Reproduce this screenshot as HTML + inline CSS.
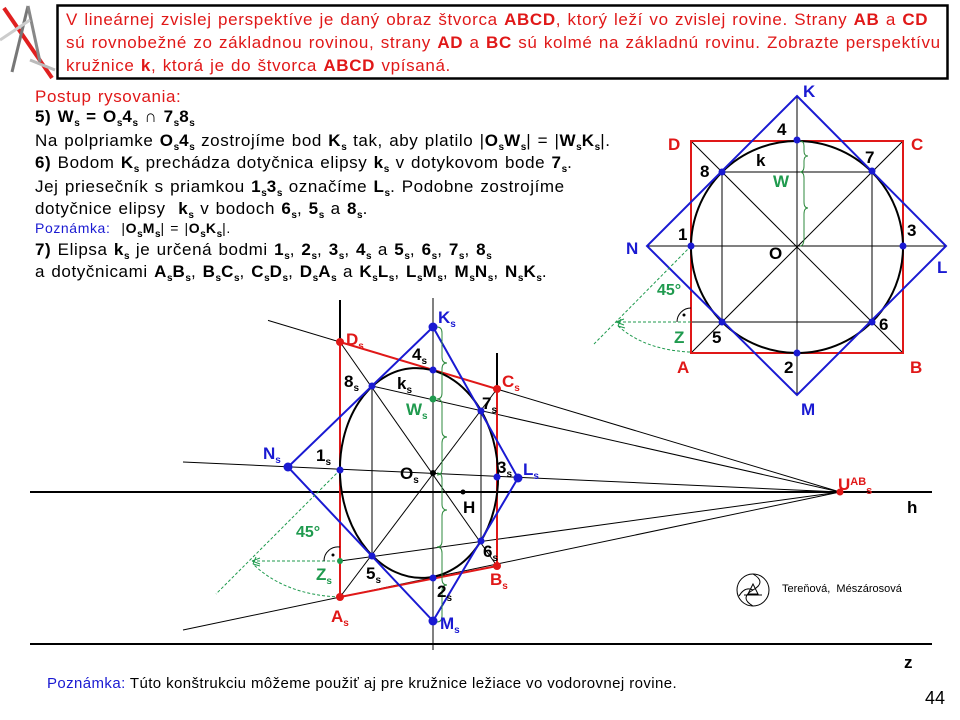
<!DOCTYPE html>
<html><head><meta charset="utf-8"><style>
body{margin:0;background:#fff;}
#c{position:relative;width:960px;height:720px;overflow:hidden;font-family:"Liberation Sans",sans-serif;}
.t{position:absolute;white-space:nowrap;}
.l{position:absolute;white-space:nowrap;font-weight:bold;font-size:17px;line-height:20px;}
.l sub,.tx sub{font-size:10px;vertical-align:-4px;line-height:0;letter-spacing:0;}
.bl{color:#1a1ad2}.rd{color:#e01818}.gr{color:#1f9a4e}.bk{color:#000}
.tx{position:absolute;left:35px;font-size:17px;line-height:20px;white-space:nowrap;color:#000;letter-spacing:0.6px;word-spacing:1px;}
</style></head><body><div id="c">
<svg width="960" height="720" style="position:absolute;left:0;top:0">
<line x1="4" y1="8" x2="52" y2="78" stroke="#e02020" stroke-width="4"/>
<line x1="28" y1="6" x2="12" y2="72" stroke="#777" stroke-width="3"/>
<line x1="28" y1="6" x2="40" y2="62" stroke="#888" stroke-width="3"/>
<line x1="0" y1="40" x2="30" y2="20" stroke="#ccc" stroke-width="3"/>
<line x1="30" y1="60" x2="55" y2="70" stroke="#bbb" stroke-width="3"/>
<rect x="57.5" y="5.5" width="890" height="73" fill="none" stroke="#000" stroke-width="2.5"/>
<line x1="30" y1="492" x2="932" y2="492" stroke="#000" stroke-width="2"/>
<line x1="30" y1="644" x2="932" y2="644" stroke="#000" stroke-width="2"/>
<g stroke="#000" stroke-width="1">
<line x1="268" y1="320.4" x2="840" y2="492"/>
<line x1="372" y1="386" x2="840" y2="492"/>
<line x1="183" y1="462" x2="840" y2="492"/>
<line x1="340" y1="561" x2="840" y2="492"/>
<line x1="183" y1="630" x2="840" y2="492"/>
</g>
<g stroke="#000" stroke-width="1">
<line x1="340" y1="342" x2="497" y2="566"/>
<line x1="340" y1="597" x2="497" y2="389"/>
<line x1="372" y1="386" x2="372" y2="556"/>
<line x1="481" y1="411" x2="481" y2="541"/>
<line x1="433" y1="298" x2="433" y2="650"/>
</g>
<line x1="340" y1="300" x2="340" y2="342" stroke="#000" stroke-width="2"/>
<line x1="497" y1="353" x2="497" y2="389" stroke="#000" stroke-width="2"/>
<polygon points="340,342 497,389 497,566 340,597" fill="none" stroke="#e01818" stroke-width="2"/>
<ellipse cx="419" cy="473" rx="79" ry="105" transform="rotate(-3.3 419 473)" fill="none" stroke="#000" stroke-width="2"/>
<polygon points="433,327 518,478 433,621 288,467" fill="none" stroke="#1a1ad2" stroke-width="2"/>
<g fill="none" stroke="#2e8a3e" stroke-width="1">
<path d="M437,327 q5,0 5,6 v24 q0,6 5,6 q-5,0 -5,6 v24 q0,6 -5,6"/>
<path d="M437,399 q5,0 5,6 v26 q0,6 5,6 q-5,0 -5,6 v26 q0,6 -5,6"/>
<path d="M437,473 q5,0 5,6 v25 q0,6 5,6 q-5,0 -5,6 v25 q0,6 -5,6"/>
<path d="M437,547 q5,0 5,6 v26 q0,6 5,6 q-5,0 -5,6 v25 q0,6 -5,6"/>
</g>
<g fill="none" stroke="#1f9a4e" stroke-width="1" stroke-dasharray="3,2">
<line x1="340" y1="470" x2="216" y2="594"/>
<line x1="340" y1="561" x2="252" y2="561"/>
<path d="M340,597 Q285,595 253,564"/>
</g>
<path d="M252,561 l8,-3 M252,561 l8,3" stroke="#1f9a4e" stroke-width="1"/>
<path d="M253,564 l3,-7 M253,564 l7,2" stroke="#1f9a4e" stroke-width="1"/>
<path d="M324,561 a14,14 0 0 1 16,-14" fill="none" stroke="#000" stroke-width="1"/>
<circle cx="333" cy="555" r="1.5" fill="#000"/>
<g fill="#1a1ad2">
<circle cx="433" cy="327" r="4.5"/><circle cx="433" cy="621" r="4.5"/>
<circle cx="288" cy="467" r="4.5"/><circle cx="518" cy="478" r="4.5"/>
<circle cx="433" cy="370" r="3.5"/><circle cx="433" cy="578" r="3.5"/>
<circle cx="340" cy="470" r="3.5"/><circle cx="497" cy="477" r="3.5"/>
<circle cx="372" cy="386" r="3.5"/><circle cx="481" cy="411" r="3.5"/>
<circle cx="372" cy="556" r="3.5"/><circle cx="481" cy="541" r="3.5"/>
</g>
<g fill="#e01818">
<circle cx="340" cy="342" r="4"/><circle cx="497" cy="389" r="4"/>
<circle cx="497" cy="566" r="4"/><circle cx="340" cy="597" r="4"/>
<circle cx="840" cy="492" r="3.5"/>
</g>
<circle cx="433" cy="399" r="3.5" fill="#1f9a4e"/>
<circle cx="340" cy="561" r="3" fill="#1f9a4e"/>
<circle cx="433" cy="473" r="3" fill="#000"/>
<circle cx="463" cy="492" r="2.5" fill="#000"/>
<g stroke="#000" stroke-width="1">
<line x1="691" y1="141" x2="903" y2="353"/>
<line x1="691" y1="353" x2="903" y2="141"/>
<line x1="797" y1="96" x2="797" y2="395"/>
<line x1="647" y1="246" x2="946" y2="246"/>
<line x1="722" y1="172" x2="872" y2="172"/>
<line x1="691" y1="322" x2="872" y2="322"/>
<line x1="722" y1="172" x2="722" y2="322"/>
<line x1="872" y1="172" x2="872" y2="322"/>
</g>
<rect x="691" y="141" width="212" height="212" fill="none" stroke="#e01818" stroke-width="2"/>
<circle cx="797" cy="247" r="106" fill="none" stroke="#000" stroke-width="2"/>
<polygon points="797,96 946,246 797,395 647,246" fill="none" stroke="#1a1ad2" stroke-width="2"/>
<g fill="none" stroke="#2e8a3e" stroke-width="1">
<path d="M800,141 q4,0 4,5 v5 q0,5 4,5 q-4,0 -4,5 v5 q0,6 -4,6"/>
<path d="M800,172 q4,0 4,6 v24 q0,6 4,6 q-4,0 -4,6 v24 q0,8 -4,8"/>
</g>
<g fill="none" stroke="#1f9a4e" stroke-width="1" stroke-dasharray="3,2">
<line x1="691" y1="246" x2="594" y2="344"/>
<line x1="691" y1="322" x2="617" y2="322"/>
<path d="M690,352 Q645,350 618,326"/>
</g>
<path d="M616,322 l8,-3 M616,322 l8,3" stroke="#1f9a4e" stroke-width="1"/>
<path d="M618,326 l3,-7 M618,326 l7,2" stroke="#1f9a4e" stroke-width="1"/>
<path d="M677,322 a14,14 0 0 1 14,-14" fill="none" stroke="#000" stroke-width="1"/>
<circle cx="684" cy="315" r="1.5" fill="#000"/>
<g fill="#1a1ad2">
<circle cx="797" cy="140" r="3.5"/><circle cx="797" cy="353" r="3.5"/>
<circle cx="691" cy="246" r="3.5"/><circle cx="903" cy="246" r="3.5"/>
<circle cx="722" cy="172" r="3.5"/><circle cx="872" cy="171" r="3.5"/>
<circle cx="722" cy="322" r="3.5"/><circle cx="872" cy="322" r="3.5"/>
</g>
<g fill="none" stroke="#000" stroke-width="1">
<circle cx="753" cy="590" r="16"/>
<path d="M753,574 q14,8 0,16 q-14,8 0,16"/>
<path d="M739,596 q6,-10 14,-6"/>
<path d="M748,594 l5,-10 l5,10 z"/>
<path d="M744,595 h18"/>
</g>
</svg>

<div class="t" style="left:66px;top:8px;font-size:17px;line-height:23px;color:#e01818;letter-spacing:0.65px;word-spacing:1px;">V lineárnej zvislej perspektíve je daný obraz štvorca <b>ABCD</b>, ktorý leží vo zvislej rovine. Strany <b>AB</b> a <b>CD</b><br>sú rovnobežné zo základnou rovinou, strany <b>AD</b> a <b>BC</b> sú kolmé na základnú rovinu. Zobrazte perspektívu<br>kružnice <b>k</b>, ktorá je do štvorca <b>ABCD</b> vpísaná.</div>

<div class="tx" style="top:87px;color:#e01818;">Postup rysovania:</div>
<div class="tx" style="top:107px;"><b>5) W<sub>s</sub> = O<sub>s</sub>4<sub>s</sub> ∩ 7<sub>s</sub>8<sub>s</sub></b></div>
<div class="tx" style="top:131px;">Na polpriamke <b>O<sub>s</sub>4<sub>s</sub></b> zostrojíme bod <b>K<sub>s</sub></b> tak, aby platilo |<b>O<sub>s</sub>W<sub>s</sub></b>| = |<b>W<sub>s</sub>K<sub>s</sub></b>|.</div>
<div class="tx" style="top:153px;"><b>6)</b> Bodom <b>K<sub>s</sub></b> prechádza dotyčnica elipsy <b>k<sub>s</sub></b> v dotykovom bode <b>7<sub>s</sub></b>.</div>
<div class="tx" style="top:177px;">Jej priesečník s priamkou <b>1<sub>s</sub>3<sub>s</sub></b> označíme <b>L<sub>s</sub></b>. Podobne zostrojíme</div>
<div class="tx" style="top:199px;">dotyčnice elipsy &nbsp;<b>k<sub>s</sub></b> v bodoch <b>6<sub>s</sub></b>, <b>5<sub>s</sub></b> a <b>8<sub>s</sub></b>.</div>
<div class="tx" style="top:218px;font-size:14px;"><span class="bl">Poznámka:</span> &nbsp;|<b>O<sub>s</sub>M<sub>s</sub></b>| = |<b>O<sub>s</sub>K<sub>s</sub></b>|.</div>
<div class="tx" style="top:240px;"><b>7)</b> Elipsa <b>k<sub>s</sub></b> je určená bodmi <b>1<sub>s</sub></b>, <b>2<sub>s</sub></b>, <b>3<sub>s</sub></b>, <b>4<sub>s</sub></b> a <b>5<sub>s</sub></b>, <b>6<sub>s</sub></b>, <b>7<sub>s</sub></b>, <b>8<sub>s</sub></b></div>
<div class="tx" style="top:262px;">a dotyčnicami <b>A<sub>s</sub>B<sub>s</sub></b>, <b>B<sub>s</sub>C<sub>s</sub></b>, <b>C<sub>s</sub>D<sub>s</sub></b>, <b>D<sub>s</sub>A<sub>s</sub></b> a <b>K<sub>s</sub>L<sub>s</sub></b>, <b>L<sub>s</sub>M<sub>s</sub></b>, <b>M<sub>s</sub>N<sub>s</sub></b>, <b>N<sub>s</sub>K<sub>s</sub></b>.</div>

<div class="l bl" style="left:803px;top:82px;">K</div>
<div class="l bk" style="left:777px;top:120px;">4</div>
<div class="l rd" style="left:668px;top:135px;">D</div>
<div class="l rd" style="left:911px;top:135px;">C</div>
<div class="l bk" style="left:756px;top:151px;">k</div>
<div class="l bk" style="left:865px;top:148px;">7</div>
<div class="l bk" style="left:700px;top:162px;">8</div>
<div class="l gr" style="left:773px;top:172px;">W</div>
<div class="l bk" style="left:678px;top:225px;">1</div>
<div class="l bk" style="left:907px;top:221px;">3</div>
<div class="l bl" style="left:626px;top:239px;">N</div>
<div class="l bk" style="left:769px;top:244px;">O</div>
<div class="l bl" style="left:937px;top:258px;">L</div>
<div class="l gr" style="left:657px;top:281px;font-size:16px;">45°</div>
<div class="l bk" style="left:879px;top:315px;">6</div>
<div class="l gr" style="left:674px;top:328px;">Z</div>
<div class="l bk" style="left:712px;top:328px;">5</div>
<div class="l rd" style="left:677px;top:358px;">A</div>
<div class="l bk" style="left:784px;top:358px;">2</div>
<div class="l rd" style="left:910px;top:358px;">B</div>
<div class="l bl" style="left:801px;top:400px;">M</div>

<div class="l bl" style="left:438px;top:308px;">K<sub>s</sub></div>
<div class="l rd" style="left:346px;top:330px;">D<sub>s</sub></div>
<div class="l bk" style="left:412px;top:345px;">4<sub>s</sub></div>
<div class="l bk" style="left:344px;top:372px;">8<sub>s</sub></div>
<div class="l bk" style="left:397px;top:374px;">k<sub>s</sub></div>
<div class="l rd" style="left:502px;top:372px;">C<sub>s</sub></div>
<div class="l gr" style="left:406px;top:400px;">W<sub>s</sub></div>
<div class="l bk" style="left:482px;top:394px;">7<sub>s</sub></div>
<div class="l bl" style="left:263px;top:444px;">N<sub>s</sub></div>
<div class="l bk" style="left:316px;top:446px;">1<sub>s</sub></div>
<div class="l bk" style="left:400px;top:464px;">O<sub>s</sub></div>
<div class="l bk" style="left:497px;top:458px;">3<sub>s</sub></div>
<div class="l bl" style="left:523px;top:460px;">L<sub>s</sub></div>
<div class="l bk" style="left:463px;top:498px;">H</div>
<div class="l gr" style="left:296px;top:523px;font-size:16px;">45°</div>
<div class="l bk" style="left:483px;top:542px;">6<sub>s</sub></div>
<div class="l gr" style="left:316px;top:565px;">Z<sub>s</sub></div>
<div class="l bk" style="left:366px;top:564px;">5<sub>s</sub></div>
<div class="l rd" style="left:490px;top:570px;">B<sub>s</sub></div>
<div class="l bk" style="left:437px;top:582px;">2<sub>s</sub></div>
<div class="l rd" style="left:331px;top:607px;">A<sub>s</sub></div>
<div class="l bl" style="left:440px;top:614px;">M<sub>s</sub></div>
<div class="l rd" style="left:838px;top:472px;">U<span style="font-size:11px;vertical-align:5px;">AB</span><sub style="font-size:11px;">s</sub></div>
<div class="l bk" style="left:907px;top:498px;">h</div>
<div class="l bk" style="left:904px;top:653px;">z</div>

<div class="t" style="left:782px;top:583px;font-size:11px;">Tereňová, &nbsp;Mészárosová</div>
<div class="t" style="left:47px;top:675px;font-size:15px;letter-spacing:0.4px;"><span class="bl">Poznámka:</span> Túto konštrukciu môžeme použiť aj pre kružnice ležiace vo vodorovnej rovine.</div>
<div class="t" style="left:925px;top:688px;font-size:18px;">44</div>
</div></body></html>
